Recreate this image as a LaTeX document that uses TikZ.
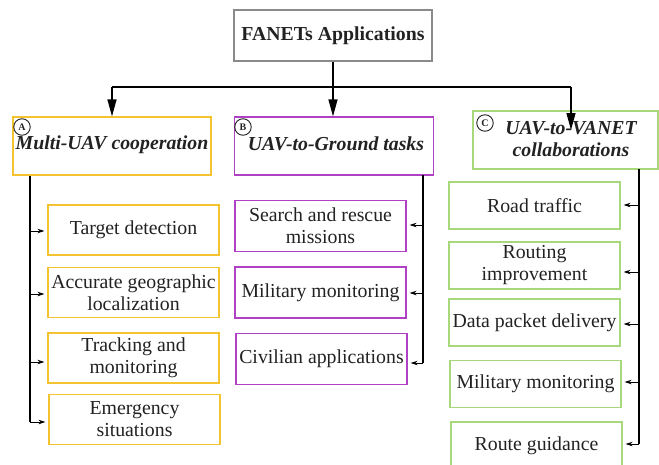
\documentclass[tikz,border=0pt]{standalone}
\usepackage{fontspec}
\setmainfont{Liberation Serif}
\usetikzlibrary{arrows.meta}
\definecolor{txt}{HTML}{222222}
\definecolor{frameA}{HTML}{F4C430}
\definecolor{frameB}{HTML}{B040C4}
\definecolor{frameC}{HTML}{A8D87C}
\definecolor{frameT}{HTML}{8A8A8A}
\tikzset{
  box/.style={draw, line width=1.2pt, fill=white, text=txt, align=center,
    inner sep=0pt, font=\fontsize{19.8}{22}\selectfont},
  boxA/.style={box, draw=frameA, minimum width=171pt, minimum height=50pt},
  boxB/.style={box, draw=frameB, minimum width=171pt, minimum height=51pt},
  boxC/.style={box, draw=frameC, minimum width=171pt, minimum height=47pt},
  head/.style={box, minimum height=58pt},
  headtext/.style={text=txt, align=center, font=\fontsize{19.8}{22}\selectfont\bfseries\itshape},
  tag/.style={draw=txt, circle, line width=0.9pt, inner sep=0.5pt, minimum size=16.5pt,
    text=txt, font=\fontsize{10}{10}\selectfont\bfseries},
  mainarrow/.style={draw=black, line width=1.2pt, -{Triangle[length=17pt,width=9pt]}},
  trunk/.style={draw=black, line width=1.2pt},
  branch/.style={draw=black, line width=1pt, -{Stealth[length=7pt,width=4.5pt]}, shorten >=3pt},
}
\begin{document}
\begin{tikzpicture}[x=1pt,y=-1pt]
\useasboundingbox (0,0) rectangle (659,464);

% root
\node[box, draw=frameT, minimum width=198pt, minimum height=51pt,
  font=\fontsize{19.8}{22}\selectfont\bfseries] (root) at (333,35.5) {FANETs Applications};

% category headings
\node[head, draw=frameA, minimum width=198pt] (A) at (112,146) {};
\node[headtext] (Atext) at (112,145) {Multi-UAV cooperation};
\node[tag] (Atag) at (22,127) {A};

\node[head, draw=frameB, minimum width=199pt] (B) at (334,146) {};
\node[headtext] (Btext) at (336,144) {UAV-to-Ground tasks};
\node[tag] (Btag) at (243,127) {B};

\node[head, draw=frameC, minimum width=185pt] (C) at (565.5,140) {};
\node[headtext] (Ctext) at (571,139) {UAV-to-VANET\\collaborations};
\node[tag] (Ctag) at (485,123) {C};

% root fan-out
\coordinate (fork) at (333,87);
\coordinate (forkA) at (112,87);
\coordinate (forkC) at (571,87);
\coordinate (tipC) at (571,130);
\draw[trunk] (root.south) -- (fork);
\draw[trunk] (forkA) -- (forkC);
\draw[mainarrow] (forkA) -- (A.north -| forkA);
\draw[mainarrow] (fork) -- (B.north -| fork);
\draw[mainarrow] (forkC) -- (tipC);

% branch A
\node[boxA] (a1) at (133.5,230) {Target detection};
\node[boxA] (a2) at (133.5,292.5) {Accurate geographic\\localization};
\node[boxA] (a3) at (133.5,358) {Tracking and\\monitoring};
\node[boxA] (a4) at (134.5,419.5) {Emergency\\situations};
\coordinate (trA) at (30,176);
\coordinate (endA) at (30,422);
\draw[trunk] (trA) -- (endA);
\draw[branch] (30,231) -- (a1.west |- 0,231);
\draw[branch] (30,294) -- (a2.west |- 0,294);
\draw[branch] (30,362) -- (a3.west |- 0,362);
\draw[branch] (endA) -- (a4.west |- endA);

% branch B
\node[boxB] (b1) at (320.5,226) {Search and rescue\\missions};
\node[boxB] (b2) at (320.5,292.5) {Military monitoring};
\node[boxB] (b3) at (321.5,359) {Civilian applications};
\coordinate (trB) at (423,175);
\coordinate (endB) at (423,363);
\draw[trunk] (trB) -- (endB);
\draw[branch] (423,225) -- (b1.east |- 0,225);
\draw[branch] (423,293) -- (b2.east |- 0,293);
\draw[branch] (endB) -- (b3.east |- endB);

% branch C
\node[boxC] (c1) at (534.5,205.5) {Road traffic};
\node[boxC] (c2) at (534.5,265.5) {Routing\\improvement};
\node[boxC] (c3) at (534.5,322.5) {Data packet delivery};
\node[boxC] (c4) at (535.5,384) {Military monitoring};
\node[boxC] (c5) at (536.5,445.5) {Route guidance};
\coordinate (trC) at (639,169);
\coordinate (endC) at (639,444);
\draw[trunk] (trC) -- (endC);
\draw[branch] (639,205) -- (c1.east |- 0,205);
\draw[branch] (639,272) -- (c2.east |- 0,272);
\draw[branch] (639,324) -- (c3.east |- 0,324);
\draw[branch] (639,382) -- (c4.east |- 0,382);
\draw[branch] (endC) -- (c5.east |- endC);
\end{tikzpicture}
\end{document}
